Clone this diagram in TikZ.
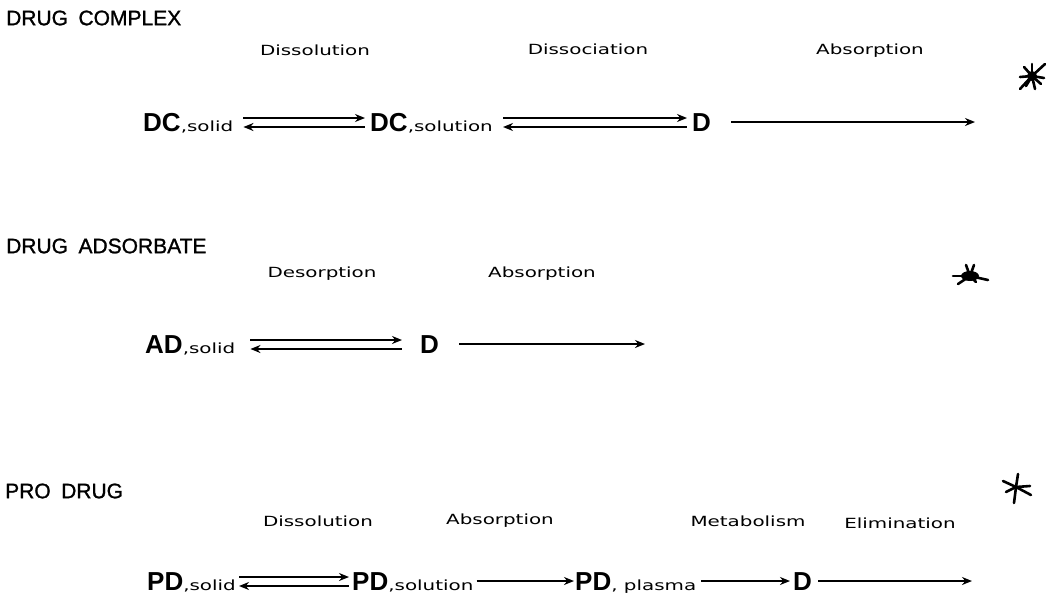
\documentclass[tikz,border=0pt]{standalone}
\usepackage{fontspec}
\setmainfont{Liberation Sans}
\newfontfamily\procfont[FakeStretch=1.42]{DejaVu Sans}
\newfontfamily\headfont[FakeBold=1.2]{Liberation Sans}
\usetikzlibrary{arrows.meta}
\newcommand{\phasestate}[1]{{\mdseries\procfont\fontsize{14}{16}\selectfont ,#1}}
\tikzset{
  headlabel/.style={anchor=west, inner sep=0pt, font=\headfont\fontsize{21}{24}\selectfont},
  steplabel/.style={inner sep=0pt, font=\procfont\fontsize{14}{16}\selectfont},
  species/.style={anchor=base west, inner sep=0pt, font=\fontsize{26}{30}\selectfont\bfseries},
  fwd/.style={-{Stealth[length=10pt,width=8pt]}, line width=1.8pt, shorten <=10pt, shorten >=5pt},
  bwd/.style={{Stealth[length=10pt,width=8pt]}-, line width=1.8pt, shorten <=10pt, shorten >=5pt},
  starmark/.style={line width=2.6pt, line cap=round},
}
\begin{document}
\begin{tikzpicture}[x=1pt, y=-1pt]
  \fill[white] (0,0) rectangle (1046,600);
  \useasboundingbox (0,0) rectangle (1046,600);

  % === Drug complex ===
  \node[headlabel] (hcomplex) at (6,18) {DRUG\enspace COMPLEX};
  \node[steplabel] (cdissol) at (315,50) {Dissolution};
  \node[steplabel] (cdissoc) at (588,49) {Dissociation};
  \node[steplabel] (cabsorb) at (870,51) {Absorption};

  \node[species] (dcsolid) at (143,131) {DC\phasestate{solid}};
  \node[species] (dcsoln) at (370,131) {DC\phasestate{solution}};
  \node[species] (dcfree) at (692,131) {D};
  \coordinate (cabsend) at (975,122);

  \draw[fwd] ([yshift=13pt]dcsolid.base east) -- ([yshift=13pt]dcsoln.base west);
  \draw[bwd] ([yshift=4pt]dcsolid.base east) -- ([yshift=4pt]dcsoln.base west);
  \draw[fwd] ([yshift=13pt]dcsoln.base east) -- ([yshift=13pt]dcfree.base west);
  \draw[bwd] ([yshift=4pt]dcsoln.base east) -- ([yshift=4pt]dcfree.base west);
  \draw[fwd, shorten <=20pt, shorten >=0pt] (dcfree.east |- cabsend) -- (cabsend);

  % === Drug adsorbate ===
  \node[headlabel] (hadsorb) at (6,246) {DRUG\enspace ADSORBATE};
  \node[steplabel] (adesorb) at (322,274) {Desorption};
  \node[steplabel] (aabsorb) at (542,274) {Absorption};

  \node[species] (adsolid) at (145,353) {AD\phasestate{solid}};
  \node[species] (adfree) at (420,353) {D};
  \coordinate (aabsend) at (645,344);

  \draw[fwd, shorten <=15pt, shorten >=18pt] ([yshift=13pt]adsolid.base east) -- ([yshift=13pt]adfree.base west);
  \draw[bwd, shorten <=15pt, shorten >=18pt] ([yshift=4pt]adsolid.base east) -- ([yshift=4pt]adfree.base west);
  \draw[fwd, shorten <=20pt, shorten >=0pt] (adfree.east |- aabsend) -- (aabsend);

  % === Pro drug ===
  \node[headlabel] (hpro) at (5,491) {PRO\enspace DRUG};
  \node[steplabel] (pdissol) at (318,521) {Dissolution};
  \node[steplabel] (pabsorb) at (500,521) {Absorption};
  \node[steplabel] (pmetab) at (748,521) {Metabolism};
  \node[steplabel] (pelim) at (900,523) {Elimination};

  \node[species] (pdsolid) at (147,590) {PD\phasestate{solid}};
  \node[species] (pdsoln) at (352,590) {PD\phasestate{solution}};
  \node[species] (pdplasma) at (575,590) {PD\phasestate{\ plasma}};
  \node[species] (pdfree) at (793,590) {D};
  \coordinate (pelimend) at (972,581);

  \draw[fwd, shorten <=3pt, shorten >=3pt] ([yshift=13pt]pdsolid.base east) -- ([yshift=13pt]pdsoln.base west);
  \draw[bwd, shorten <=3pt, shorten >=3pt] ([yshift=4pt]pdsolid.base east) -- ([yshift=4pt]pdsoln.base west);
  \draw[fwd, shorten <=3pt, shorten >=1pt] ([yshift=9pt]pdsoln.base east) -- ([yshift=9pt]pdplasma.base west);
  \draw[fwd, shorten <=5pt, shorten >=3pt] ([yshift=9pt]pdplasma.base east) -- ([yshift=9pt]pdfree.base west);
  \draw[fwd, shorten <=6pt, shorten >=0pt] (pdfree.east |- pelimend) -- (pelimend);

  % === hand marks ===
  \coordinate (mark1) at (1032,76);
  \coordinate (mark2) at (970,276);
  \coordinate (mark3) at (1016,487);
  \fill (mark1) circle (5);
  \foreach \dx/\dy in {13/-12, -12/13, -8/-9, 9/8, 0/-12, 3/13, -12/1, 12/2, -6/10}
    \draw[starmark] (mark1) -- ++(\dx,\dy);
  \fill (mark2) ellipse (9 and 5);
  \foreach \dx/\dy in {-4/-11, 4/-11, 18/4, -17/0, -12/8, 6/6}
    \draw[starmark] (mark2) -- ++(\dx,\dy);
  \foreach \dx/\dy in {-13/-6, 2/-13, 14/-1, 15/8, -2/16, -10/5}
    \draw[starmark] (mark3) -- ++(\dx,\dy);
\end{tikzpicture}
\end{document}
